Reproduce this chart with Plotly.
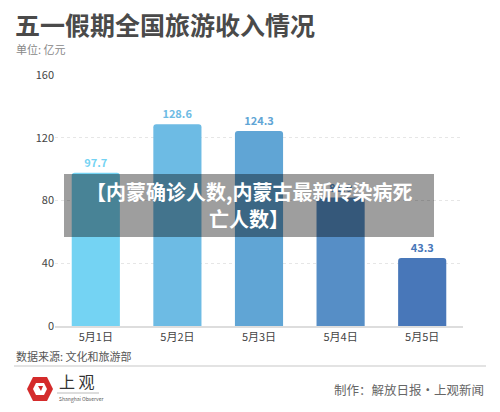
import plotly.graph_objects as go

categories = ["5月1日", "5月2日", "5月3日", "5月4日", "5月5日"]
values = [97.7, 128.6, 124.3, 81.9, 43.3]
colors = ["#74D3F3", "#6DBBE4", "#60A5D5", "#568EC6", "#4877B9"]
y_ticks = [0, 40, 80, 120, 160]

FONT = "Noto Sans CJK SC"

# plot area in pixels
L, R, T, B = 55, 37, 75, 86
W, H = 500, 412
PW, PH = W - L - R, H - T - B


def px(x):
    return (x - L) / PW


def py(y):
    return (H - B - y) / PH


fig = go.Figure()
fig.add_trace(go.Bar(
    x=categories, y=values,
    marker=dict(color=colors, cornerradius=3, line=dict(width=0)),
    width=0.59,
    text=[f"<b>{v}</b>" for v in values],
    textposition="outside",
    textfont=dict(family=FONT, size=11, color=colors),
    cliponaxis=False,
    hoverinfo="skip",
))

fig.update_layout(
    width=W, height=H,
    margin=dict(l=L, r=R, t=T, b=B),
    paper_bgcolor="white", plot_bgcolor="white",
    showlegend=False,
    font=dict(family=FONT, color="#555"),
    xaxis=dict(showgrid=False, showline=True, linecolor="#dddddd", linewidth=2,
               ticks="", tickfont=dict(size=11, color="#444"), fixedrange=True),
    yaxis=dict(range=[0, 160], tickvals=y_ticks, showgrid=True,
               gridcolor="#e6e6e6", griddash="dot", gridwidth=1,
               zeroline=False, ticks="", ticklen=6,
               tickfont=dict(size=11, color="#444"), fixedrange=True),
    bargap=0.41,
)

shapes = [
    # overlay band
    dict(type="rect", xref="paper", yref="paper", x0=px(64), x1=px(434), y0=py(237), y1=py(174),
         fillcolor="rgba(0,0,0,0.38)", line=dict(width=0), layer="above"),
    # footer separator
    dict(type="line", xref="paper", yref="paper", x0=px(14), x1=px(486), y0=py(366), y1=py(366),
         line=dict(color="#e3e3e3", width=2)),
    # logo hexagon
    dict(type="path", xref="paper", yref="paper",
         path="M {} {} L {} {} L {} {} L {} {} L {} {} L {} {} Z".format(
             px(33), py(377), px(47), py(377), px(53), py(389),
             px(47), py(401), px(33), py(401), px(27), py(389)),
         fillcolor="#D42B2B", line=dict(width=0)),
    dict(type="path", xref="paper", yref="paper",
         path="M {} {} L {} {} L {} {} L {} {} L {} {} L {} {} Z".format(
             px(36), py(383), px(44), py(383), px(47), py(389),
             px(44), py(395), px(36), py(395), px(33), py(389)),
         fillcolor="white", line=dict(width=0)),
    dict(type="path", xref="paper", yref="paper",
         path="M {} {} L {} {} L {} {} Z".format(px(38), py(386), px(43), py(386), px(41), py(391)),
         fillcolor="#D42B2B", line=dict(width=0)),
    # thin line under logo text
    dict(type="line", xref="paper", yref="paper", x0=px(57), x1=px(99), y0=py(393), y1=py(393),
         line=dict(color="#bbbbbb", width=1)),
]
fig.update_layout(shapes=shapes)

annotations = [
    dict(text="<b>五一假期全国旅游收入情况</b>", x=px(13), y=py(24), xanchor="left", yanchor="middle",
         font=dict(size=25, color="#4a4a4a", family=FONT)),
    dict(text="单位: 亿元", x=px(14), y=py(49), xanchor="left", yanchor="middle",
         font=dict(size=11, color="#888", family=FONT)),
    dict(text="<b>【内蒙确诊人数,内蒙古最新传染病死</b>", x=px(249), y=py(191), xanchor="center", yanchor="middle",
         font=dict(size=20, color="white", family=FONT)),
    dict(text="<b>亡人数】</b>", x=px(249), y=py(219), xanchor="center", yanchor="middle",
         font=dict(size=20, color="white", family=FONT)),
    dict(text="数据来源: 文化和旅游部", x=px(14), y=py(356), xanchor="left", yanchor="middle",
         font=dict(size=11, color="#555", family=FONT)),
    dict(text="上 观", x=px(57), y=py(381), xanchor="left", yanchor="middle",
         font=dict(size=16, color="#333", family=FONT)),
    dict(text="Shanghai Observer", x=px(57), y=py(399), xanchor="left", yanchor="middle",
         font=dict(size=5, color="#555", family=FONT)),
    dict(text="制作：解放日报·上观新闻", x=px(486), y=py(389), xanchor="right", yanchor="middle",
         font=dict(size=12.5, color="#666", family=FONT)),
]
for a in annotations:
    a.update(xref="paper", yref="paper", showarrow=False)
fig.update_layout(annotations=annotations)

fig.write_html("out.html", config=dict(displayModeBar=False),
               post_script="document.body.style.margin='0';")
